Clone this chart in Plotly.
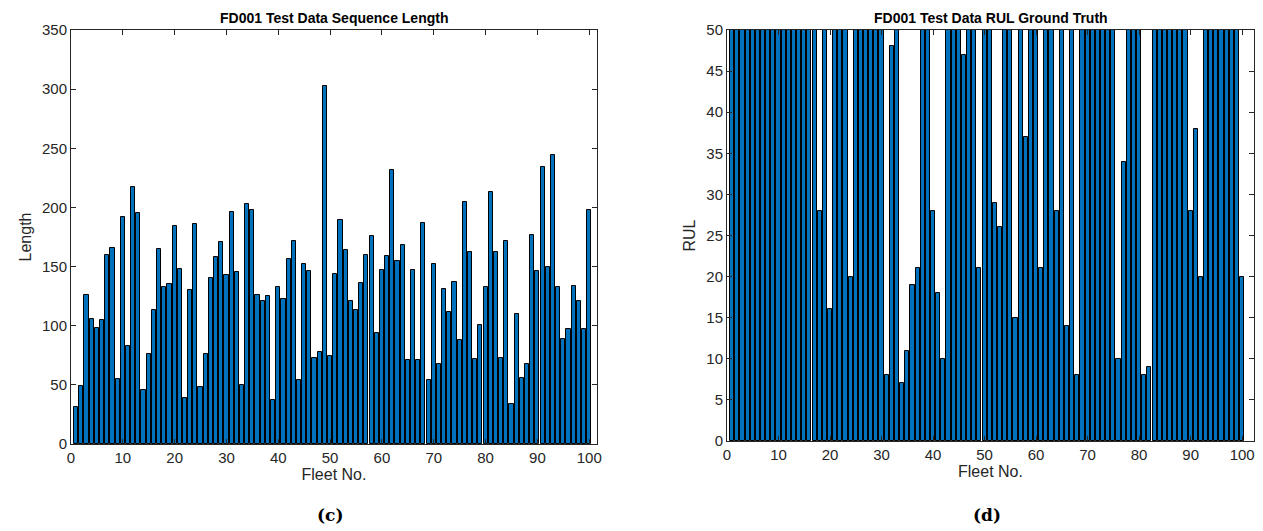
import plotly.graph_objects as go

fleet = list(range(1, 101))
seq_length = [31, 49, 126, 106, 98, 105, 160, 166, 55, 192, 83, 217, 195, 46, 76, 113, 165, 133, 135, 184,
              148, 39, 130, 186, 48, 76, 140, 158, 171, 143, 196, 145, 50, 203, 198, 126, 121, 125, 37, 133,
              123, 156, 172, 54, 152, 146, 73, 78, 303, 74, 144, 189, 164, 121, 113, 136, 160, 176, 94, 147,
              159, 232, 155, 168, 71, 147, 71, 187, 54, 152, 68, 131, 112, 137, 88, 205, 162, 72, 101, 133,
              213, 162, 73, 172, 34, 110, 56, 68, 177, 146, 234, 150, 244, 133, 89, 97, 134, 121, 97, 198]
rul = [112, 98, 69, 82, 91, 93, 91, 95, 111, 96, 97, 124, 95, 107, 83, 84, 50, 28, 87, 16,
       57, 111, 113, 20, 145, 119, 66, 97, 90, 115, 8, 48, 106, 7, 11, 19, 21, 50, 142, 28,
       18, 10, 59, 109, 114, 47, 135, 92, 21, 79, 114, 29, 26, 97, 137, 15, 103, 37, 114, 100,
       21, 54, 72, 28, 128, 14, 77, 8, 121, 94, 118, 50, 131, 126, 113, 10, 34, 107, 63, 90,
       8, 9, 137, 58, 118, 89, 116, 115, 136, 28, 38, 20, 85, 55, 128, 137, 82, 59, 117, 20]

x_ticks = list(range(0, 101, 10))
len_ticks = list(range(0, 351, 50))
rul_ticks = list(range(0, 51, 5))

OFF = 8  # page body margin
W, H = 1263 - OFF, 531 - OFF
bar_color = "#0072BD"
axc = "#262626"
font_fam = "Liberation Sans, Arial, sans-serif"


def px(x):
    return (x - OFF) / W


def py(y):
    return 1 - (y - OFF) / H


fig = go.Figure()
fig.add_trace(go.Bar(x=fleet, y=seq_length, width=0.8, marker=dict(color=bar_color, line=dict(color="black", width=1)),
                     xaxis="x", yaxis="y", showlegend=False))
fig.add_trace(go.Bar(x=fleet, y=rul, width=0.8, marker=dict(color=bar_color, line=dict(color="black", width=1)),
                     xaxis="x2", yaxis="y2", showlegend=False))


def xax(domain, anchor, rng):
    return dict(domain=domain, anchor=anchor, range=rng, tickmode="array", tickvals=x_ticks,
                ticks="inside", ticklen=5, tickcolor=axc, showline=True, linecolor=axc, linewidth=1,
                mirror="ticks", showgrid=False, zeroline=False, automargin=False,
                tickfont=dict(family=font_fam, size=15, color=axc),
                title=dict(text="Fleet No.", font=dict(family=font_fam, size=16, color=axc), standoff=2))


def yax(domain, anchor, rng, ticks, label):
    return dict(domain=domain, anchor=anchor, range=rng, tickmode="array", tickvals=ticks,
                ticks="inside", ticklen=5, tickcolor=axc, showline=True, linecolor=axc, linewidth=1,
                mirror="ticks", showgrid=False, zeroline=False, automargin=False,
                tickfont=dict(family=font_fam, size=15, color=axc),
                title=dict(text=label, font=dict(family=font_fam, size=16, color=axc), standoff=6))


fig.update_layout(
    width=W, height=H,
    margin=dict(l=0, r=0, t=0, b=0),
    paper_bgcolor="white", plot_bgcolor="white",
    bargap=0,
    xaxis=xax([px(71), px(597)], "y", [0, 101.5]),
    yaxis=yax([py(444), py(30)], "x", [0, 350], len_ticks, "Length"),
    xaxis2=xax([px(727), px(1254)], "y2", [0, 102.3]),
    yaxis2=yax([py(441), py(30)], "x2", [0, 50], rul_ticks, "RUL"),
    annotations=[
        dict(text="<b>FD001 Test Data Sequence Length</b>", x=px((71 + 597) / 2), y=py(18), xref="paper", yref="paper",
             showarrow=False, font=dict(family=font_fam, size=14, color="black"), xanchor="center", yanchor="middle"),
        dict(text="<b>FD001 Test Data RUL Ground Truth</b>", x=px((727 + 1254) / 2), y=py(18), xref="paper", yref="paper",
             showarrow=False, font=dict(family=font_fam, size=14, color="black"), xanchor="center", yanchor="middle"),
        dict(text="<b>(c)</b>", x=px(330), y=py(515), xref="paper", yref="paper", showarrow=False,
             font=dict(family="DejaVu Serif, Liberation Serif, serif", size=17, color="black"), xanchor="center", yanchor="middle"),
        dict(text="<b>(d)</b>", x=px(987), y=py(515), xref="paper", yref="paper", showarrow=False,
             font=dict(family="DejaVu Serif, Liberation Serif, serif", size=17, color="black"), xanchor="center", yanchor="middle"),
    ],
)

fig.write_html("out.html")
